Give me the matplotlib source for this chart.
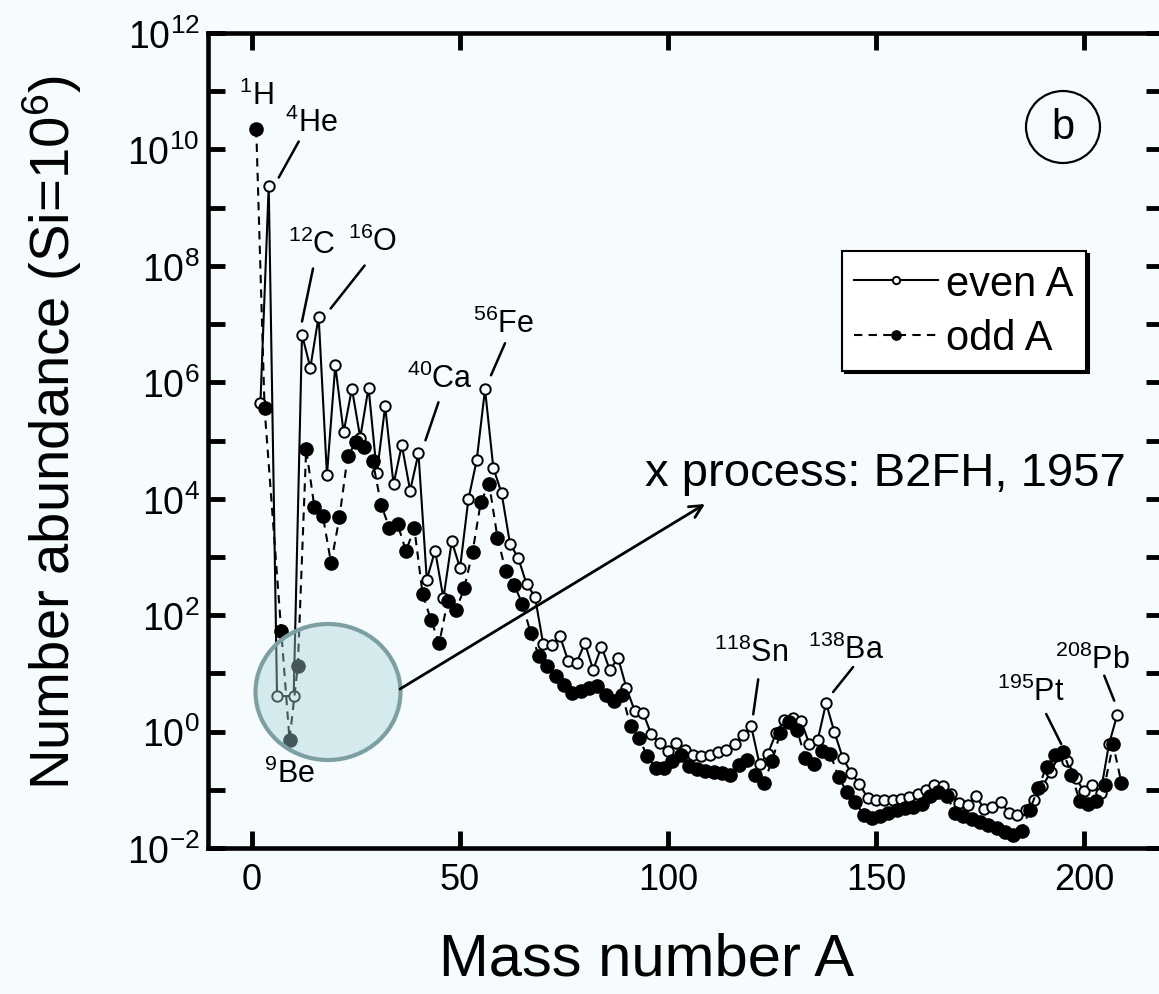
import matplotlib
matplotlib.use("Agg")
import matplotlib.pyplot as plt
import numpy as np
from matplotlib.patches import Ellipse
from matplotlib.transforms import offset_copy
from matplotlib.ticker import FixedLocator, FuncFormatter, NullLocator

plt.rcParams['font.family'] = ['Liberation Sans', 'DejaVu Sans']
plt.rcParams['mathtext.fontset'] = 'custom'
plt.rcParams['mathtext.rm'] = 'Liberation Sans'
plt.rcParams['mathtext.it'] = 'Liberation Sans:italic'
plt.rcParams['mathtext.bf'] = 'Liberation Sans:bold'

# solar abundances per isobar, log10 (Si = 1e6)
even_A = [2, 4, 6] + list(range(10, 209, 2))
even_log = [5.64, 9.38, 0.61,
            0.61, 6.82, 6.25, 7.13, 4.41, 6.29, 5.14, 5.89, 5.05, 5.91,
            4.44, 5.59, 4.25, 4.92, 4.14, 4.78, 2.61, 3.11, 2.29, 3.27,
            2.81, 3.99, 4.66, 5.88, 4.53, 4.09, 3.23, 2.98, 2.53, 2.32,
            1.50, 1.49, 1.64, 1.21, 1.18, 1.52, 1.06, 1.46, 1.06, 1.26,
            0.75, 0.35, 0.32, -0.05, -0.20, -0.34, -0.20, -0.31, -0.40, -0.42,
            -0.40, -0.35, -0.31, -0.21, -0.06, 0.09, -0.56, -0.38, -0.02, 0.20,
            0.24, 0.18, -0.22, -0.14, 0.49, -0.01, -0.45, -0.71, -0.90, -1.14,
            -1.18, -1.17, -1.17, -1.15, -1.12, -1.08, -1.00, -0.92, -0.94, -1.07,
            -1.22, -1.26, -1.10, -1.33, -1.30, -1.21, -1.40, -1.43, -1.34, -1.17,
            -0.94, -0.70, -0.40, -0.50, -0.80, -1.02, -0.91, -1.05, -0.22, 0.29]

odd_A = [1, 3] + list(range(7, 210, 2))
odd_log = [10.35, 5.55,
           1.73, -0.14, 1.13, 4.85, 3.85, 3.71, 2.89, 3.68, 4.74, 4.97,
           4.89, 4.65, 3.90, 3.50, 3.56, 3.10, 3.50, 2.36, 1.92, 1.52,
           2.24, 2.08, 2.46, 3.08, 3.95, 4.25, 3.33, 2.75, 2.52, 2.19,
           1.69, 1.29, 1.13, 0.95, 0.80, 0.66, 0.70, 0.75, 0.78, 0.63,
           0.52, 0.63, 0.09, -0.11, -0.42, -0.62, -0.62, -0.51, -0.40, -0.59,
           -0.65, -0.68, -0.70, -0.72, -0.75, -0.57, -0.48, -0.75, -0.88, -0.51,
           -0.02, 0.16, 0.03, -0.45, -0.56, -0.34, -0.38, -0.78, -1.04, -1.21,
           -1.43, -1.48, -1.45, -1.40, -1.34, -1.32, -1.30, -1.25, -1.10, -1.03,
           -1.10, -1.40, -1.45, -1.50, -1.55, -1.60, -1.65, -1.72, -1.77, -1.70,
           -1.34, -0.97, -0.60, -0.41, -0.35, -0.74, -1.20, -1.25, -1.20, -0.91,
           -0.22, -0.88]

# (series, A, label)
labels = [("odd", 1, r"$^{1}$H"), ("even", 4, r"$^{4}$He"), ("even", 12, r"$^{12}$C"),
          ("even", 16, r"$^{16}$O"), ("even", 40, r"$^{40}$Ca"), ("even", 56, r"$^{56}$Fe"),
          ("even", 120, r"$^{118}$Sn"), ("even", 138, r"$^{138}$Ba"), ("odd", 195, r"$^{195}$Pt"),
          ("even", 208, r"$^{208}$Pb"), ("odd", 9, r"$^{9}$Be")]
# text offset, leader line start, leader line end (pixels from the point)
label_layout = [((0, 34), None, None),
                ((43, 63), (30, 44), (10, 8)),
                ((10, 90), (11, 66), (0, 13)),
                ((54, 75), (46, 51), (12, 8)),
                ((21, 75), (20, 51), (7, 13)),
                ((19, 66), (20, 46), (6, 14)),
                ((0, 74), (7, 47), (2, 12)),
                ((20, 54), (27, 36), (7, 11)),
                ((-32, 61), (-17, 38), (-2, 8)),
                ((-25, 55), (-13, 39), (-3, 14)),
                ((0, -34), None, None)]

bg = '#f6fcfd'
fig = plt.figure(figsize=(11.59, 9.95), dpi=100, facecolor=bg)
ax = fig.add_axes([208 / 1159, 146 / 995, 955 / 1159, 815 / 995], facecolor=bg)

even_y = np.power(10.0, even_log)
odd_y = np.power(10.0, odd_log)

ax.plot(even_A, even_y, '-', color='k', lw=1.5, marker='o', ms=7.5,
        mfc=bg, mec='k', mew=1.4, label='even A', zorder=3)
ax.plot(odd_A, odd_y, '--', color='k', lw=1.5, dashes=(4, 3), marker='o', ms=9.5,
        mfc='k', mec='k', label='odd A', zorder=4)

ax.set_yscale('log')
ax.set_xlim(-10.6, 219)
ax.set_ylim(1e-2, 1e12)

ax.yaxis.set_major_locator(FixedLocator([10.0 ** k for k in range(-2, 13)]))
ax.yaxis.set_minor_locator(NullLocator())
ax.yaxis.set_major_formatter(FuncFormatter(
    lambda v, p: r"$10^{%d}$" % round(np.log10(v)) if round(np.log10(v)) % 2 == 0 else ""))
ax.set_xticks([0, 50, 100, 150, 200])

ax.tick_params(axis='both', which='major', direction='in', length=12, width=3.5,
               top=True, right=True, colors='k')
ax.tick_params(axis='x', pad=10, labelsize=26)
ax.tick_params(axis='y', pad=6, labelsize=27)
for s in ax.spines.values():
    s.set_linewidth(3.3)

fig.text(52 / 1159, 1 - 433 / 995, r"Number abundance (Si=10$^6$)", rotation=90,
         ha='center', va='center', fontsize=40.5)
fig.text(647 / 1159, 1 - 960 / 995, "Mass number A", ha='center', va='center', fontsize=43)

series = {"even": (even_A, even_y), "odd": (odd_A, odd_y)}
for (name, a, txt), (toff, lstart, lend) in zip(labels, label_layout):
    xs, ys = series[name]
    i = list(xs).index(a)
    pt = (xs[i], ys[i])
    ax.annotate(txt, xy=pt, xytext=toff, textcoords='offset pixels',
                ha='center', va='center', fontsize=22, zorder=6)
    if lstart is not None:
        tr = offset_copy(ax.transData, fig=fig, x=lend[0], y=lend[1], units='dots')
        ax.annotate('', xy=pt, xycoords=tr,
                    xytext=(lstart[0] - lend[0], lstart[1] - lend[1]),
                    textcoords='offset pixels',
                    arrowprops=dict(arrowstyle='-', lw=1.8, color='k',
                                    shrinkA=0, shrinkB=0), zorder=6)

leg = ax.legend(loc='upper left', bbox_to_anchor=((842 - 208) / 955, (849 - 252) / 815),
                borderaxespad=0, fontsize=30, frameon=True, fancybox=False,
                edgecolor='k', framealpha=1, facecolor='white',
                shadow={'color': 'k', 'alpha': 1}, handlelength=2.0,
                handletextpad=0.2, borderpad=0.3, labelspacing=0.35, markerscale=0.7)
leg.get_frame().set_linewidth(1.5)

# circled panel letter
ax.text((1063 - 208) / 955, (849 - 128) / 815, "b", transform=ax.transAxes,
        ha='center', va='center', fontsize=30)
ax.add_patch(Ellipse(((1063 - 208) / 955, (849 - 128) / 815), 74 / 955, 72 / 815,
                     transform=ax.transAxes, fill=False, ec='k', lw=1.6, zorder=6))

# highlight of the light elements
ax.add_patch(Ellipse(((328 - 208) / 955, (849 - 693) / 815), 145 / 955, 136 / 815,
                     transform=ax.transAxes, fc='#a7d2d9', alpha=0.42, ec='none', zorder=7))
ax.add_patch(Ellipse(((328 - 208) / 955, (849 - 693) / 815), 145 / 955, 136 / 815,
                     transform=ax.transAxes, fill=False, ec='#7d9fa3', lw=3, zorder=8))
ax.annotate('', xy=((705 - 208) / 955, (849 - 505) / 815), xycoords='axes fraction',
            xytext=((400 - 208) / 955, (849 - 690) / 815), textcoords='axes fraction',
            arrowprops=dict(arrowstyle='->,head_length=0.9,head_width=0.45', lw=2, color='k',
                            shrinkA=0, shrinkB=0), zorder=8)
ax.text((645 - 208) / 955, (849 - 474) / 815, "x process: B2FH, 1957", transform=ax.transAxes,
        ha='left', va='center', fontsize=34, zorder=8)

fig.savefig("out.png", dpi=100, facecolor=bg)
